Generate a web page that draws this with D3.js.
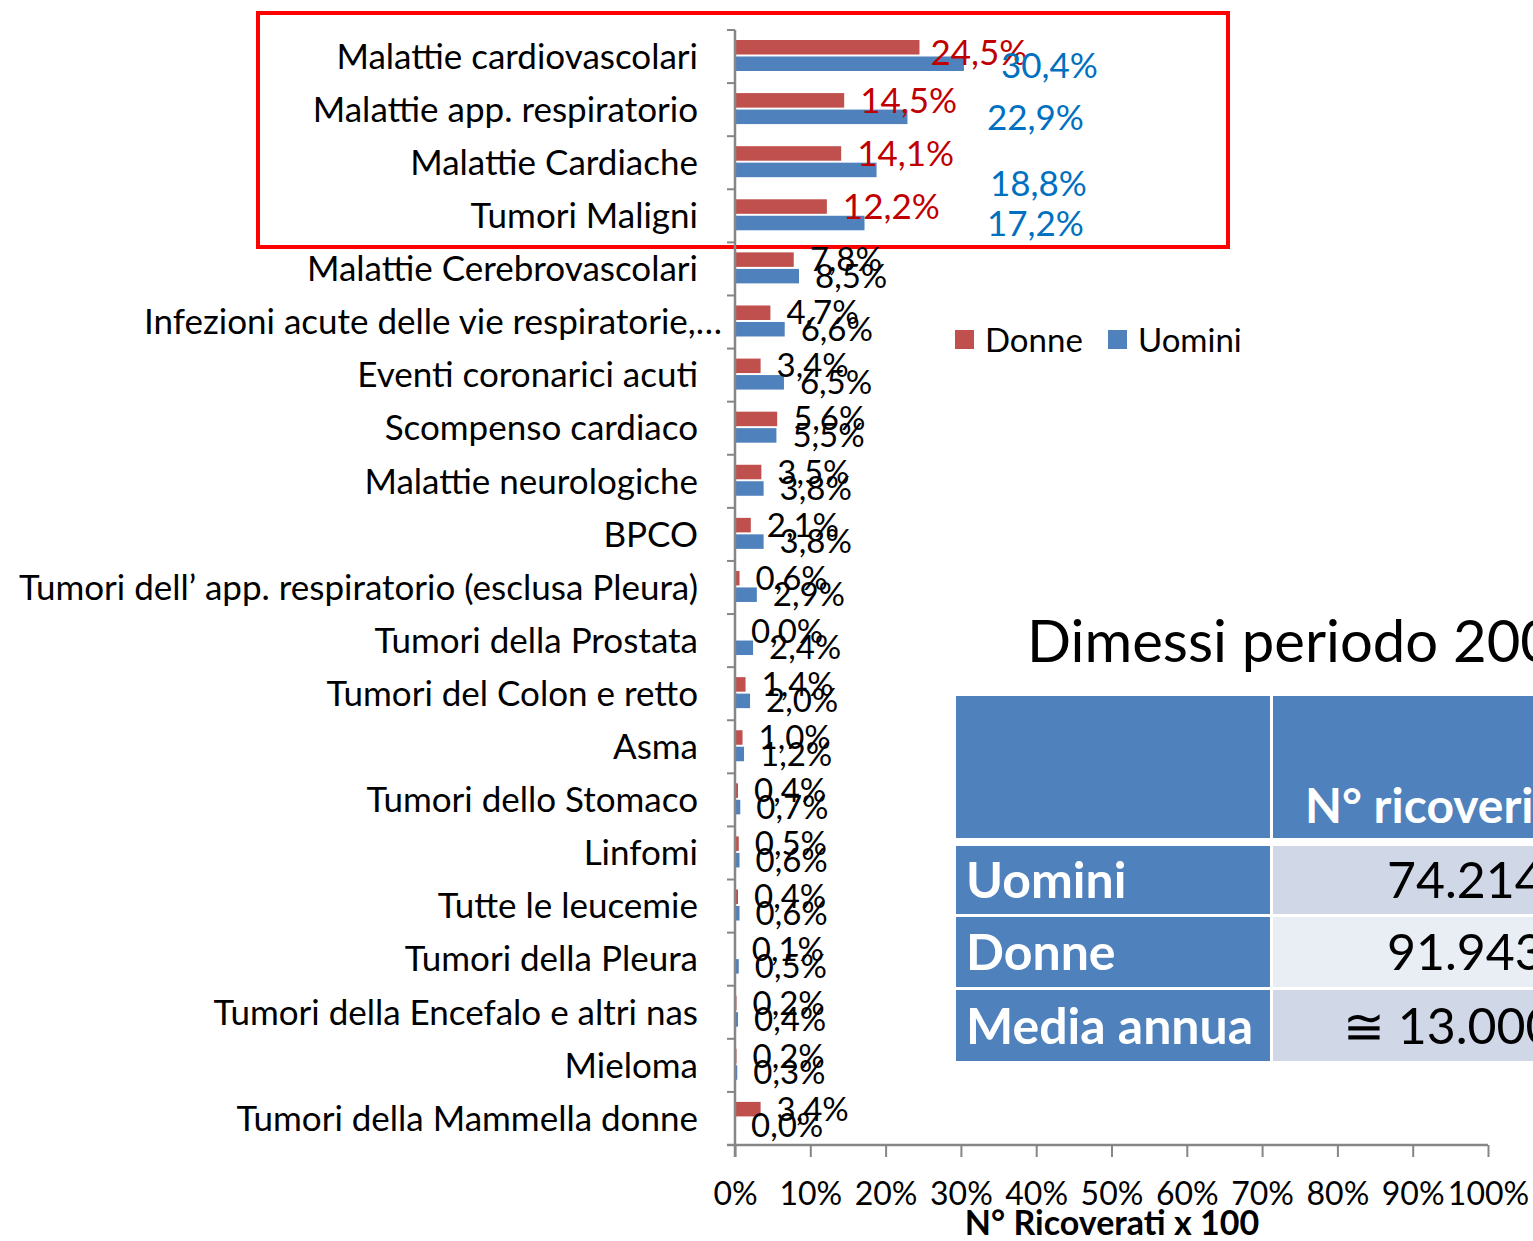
<!DOCTYPE html>
<html>
<head>
<meta charset="utf-8">
<script src="https://cdn.jsdelivr.net/npm/d3@7"></script>
<style>
  html, body { margin: 0; padding: 0; background: #fff; overflow: hidden; }
  svg { display: block; font-family: Lato, "Noto Sans", sans-serif; }
</style>
</head>
<body>
<svg id="chart" width="1533" height="1241"></svg>
<script>
// categorie (dall'alto verso il basso) e percentuali per sesso
var categories = [
    'Malattie cardiovascolari',
    'Malattie app. respiratorio',
    'Malattie Cardiache',
    'Tumori Maligni',
    'Malattie Cerebrovascolari',
    'Infezioni acute delle vie respiratorie,…',
    'Eventi coronarici acuti',
    'Scompenso cardiaco',
    'Malattie neurologiche',
    'BPCO',
    'Tumori dell’ app. respiratorio (esclusa Pleura)',
    'Tumori della Prostata',
    'Tumori del Colon e retto',
    'Asma',
    'Tumori dello Stomaco',
    'Linfomi',
    'Tutte le leucemie',
    'Tumori della Pleura',
    'Tumori della Encefalo e altri nas',
    'Mieloma',
    'Tumori della Mammella donne'
];
var donne  = [24.5, 14.5, 14.1, 12.2, 7.8, 4.7, 3.4, 5.6, 3.5, 2.1, 0.6, 0.0, 1.4, 1.0, 0.4, 0.5, 0.4, 0.1, 0.2, 0.2, 3.4];
var uomini = [30.4, 22.9, 18.8, 17.2, 8.5, 6.6, 6.5, 5.5, 3.8, 3.8, 2.9, 2.4, 2.0, 1.2, 0.7, 0.6, 0.6, 0.5, 0.4, 0.3, 0.0];
var seriesNames = ['Donne', 'Uomini'];
var xTickValues = [0, 0.1, 0.2, 0.3, 0.4, 0.5, 0.6, 0.7, 0.8, 0.9, 1];
var highlightCount = 4;

// tabella a destra
var tableTitle = 'Dimessi periodo 200';
var tableHeader = 'N° ricoveri';
var tableRows = ['Uomini', 'Donne', 'Media annua'];
var tableValues = ['74.214', '91.943', '≅ 13.000'];

// --- layout ---
var RED = '#C0504D', BLUE = '#4F81BD', AXIS = '#868686';
var colors = { Donne: RED, Uomini: BLUE };
var values = { Donne: donne, Uomini: uomini };
// etichette evidenziate spostate a mano (come nell'originale)
var redCallout = [{ dx: 11, dy: 5 }, { dx: 16, dy: 0 }, { dx: 16, dy: 0 }, { dx: 16, dy: 0 }];
var blueCallout = [{ x: 1001, dy: 2 }, { x: 987, dy: 1 }, { x: 990, dy: 14 }, { x: 987, dy: 1 }];

var svg = d3.select('#chart');

var x = d3.scaleLinear().domain([0, 1]).range([735, 1488]);
var y = d3.scaleBand().domain(categories).range([30, 1145]);
var sub = d3.scaleBand().domain(seriesNames).range([10, 41]).paddingInner(0.12);

// riquadro rosso
svg.append('rect')
    .attr('x', 258).attr('y', 13)
    .attr('width', 970).attr('height', 234)
    .attr('fill', 'none')
    .attr('stroke', '#FF0000')
    .attr('stroke-width', 4);

// barre
var rows = svg.append('g').selectAll('g')
    .data(categories)
    .enter()
    .append('g')
    .attr('transform', function (d) { return 'translate(0,' + y(d) + ')'; });

rows.selectAll('rect')
    .data(function (d, i) {
        return seriesNames.map(function (s) { return { s: s, v: values[s][i] / 100 }; });
    })
    .enter()
    .append('rect')
    .attr('x', x(0))
    .attr('y', function (d) { return sub(d.s); })
    .attr('width', function (d) { return x(d.v) - x(0); })
    .attr('height', sub.bandwidth())
    .attr('fill', function (d) { return colors[d.s]; });

// etichette valori
var fmt = function (v) { return v.toFixed(1).replace('.', ',') + '%'; };
rows.each(function (c, i) {
    var g = d3.select(this);
    var hi = i < highlightCount;
    seriesNames.forEach(function (s) {
        var v = values[s][i];
        var lx = x(v / 100) + 16;
        var ly = sub(s) + sub.bandwidth() / 2;
        var fill = '#000';
        if (hi) {
            if (s === 'Donne') {
                fill = '#C00000';
                lx = x(v / 100) + redCallout[i].dx;
                ly += redCallout[i].dy;
            } else {
                fill = '#0070C0';
                lx = blueCallout[i].x;
                ly += blueCallout[i].dy;
            }
        }
        g.append('text')
            .attr('x', lx)
            .attr('y', ly)
            .attr('dy', '0.35em')
            .attr('fill', fill)
            .attr('font-size', hi ? 35 : 33)
            .text(fmt(v));
    });
});

// etichette categorie (quella troncata sporge verso l'asse, come in Excel)
svg.append('g').selectAll('text')
    .data(categories)
    .enter()
    .append('text')
    .attr('x', function (d) { return d.slice(-1) === '…' ? 722 : 698; })
    .attr('y', function (d) { return y(d) + y.bandwidth() / 2; })
    .attr('dy', '0.35em')
    .attr('text-anchor', 'end')
    .attr('font-size', 35)
    .attr('fill', '#000')
    .text(function (d) { return d; });

// asse verticale con tacche tra le categorie
var bounds = categories.map(function (c) { return y(c); }).concat([y.range()[1]]);
svg.append('g').selectAll('line')
    .data(bounds)
    .enter()
    .append('line')
    .attr('x1', 727).attr('x2', x(0))
    .attr('y1', function (d) { return d; })
    .attr('y2', function (d) { return d; })
    .attr('stroke', AXIS).attr('stroke-width', 2);
svg.append('line')
    .attr('x1', x(0)).attr('x2', x(0))
    .attr('y1', y.range()[0]).attr('y2', y.range()[1] + 12)
    .attr('stroke', AXIS).attr('stroke-width', 2.5);

// asse orizzontale
var xAxis = svg.append('g')
    .attr('transform', 'translate(0,' + y.range()[1] + ')')
    .call(d3.axisBottom(x)
        .tickValues(xTickValues)
        .tickFormat(d3.format('.0%'))
        .tickSize(12)
        .tickSizeOuter(0)
        .tickPadding(25));
xAxis.select('.domain').remove();
xAxis.selectAll('.tick line').attr('stroke', AXIS).attr('stroke-width', 2);
xAxis.selectAll('.tick text').attr('fill', '#000').attr('font-size', 32).attr('font-family', 'Lato, sans-serif');
svg.append('line')
    .attr('x1', 727).attr('x2', x(1))
    .attr('y1', y.range()[1]).attr('y2', y.range()[1])
    .attr('stroke', AXIS).attr('stroke-width', 2.5);

svg.append('text')
    .attr('x', 1112).attr('y', 1235)
    .attr('text-anchor', 'middle')
    .attr('font-size', 34).attr('font-weight', 'bold')
    .text('N° Ricoverati x 100');

// legenda
var legend = svg.append('g').selectAll('g')
    .data(seriesNames)
    .enter()
    .append('g')
    .attr('transform', function (d, i) { return 'translate(' + (955 + i * 153) + ',330)'; });
legend.append('rect').attr('width', 19).attr('height', 19).attr('fill', function (d) { return colors[d]; });
legend.append('text').attr('x', 30).attr('y', 10).attr('dy', '0.35em').attr('font-size', 33).text(function (d) { return d; });

// titolo e tabella
svg.append('text')
    .attr('x', 1027).attr('y', 662)
    .attr('font-size', 58)
    .text(tableTitle);

var table = svg.append('g');
table.append('rect').attr('x', 956).attr('y', 696).attr('width', 314).attr('height', 142).attr('fill', BLUE);
table.append('rect').attr('x', 1273).attr('y', 696).attr('width', 280).attr('height', 142).attr('fill', BLUE);
table.append('text')
    .attr('x', 1305).attr('y', 823)
    .attr('font-size', 48).attr('font-weight', 'bold').attr('fill', '#fff')
    .text(tableHeader);

var rowTop = [846, 917, 990];
var rowH = [68, 70, 71];
var cellFill = ['#D0D8E8', '#E9EDF4', '#D0D8E8'];
var tr = table.selectAll('g.row')
    .data(tableRows)
    .enter()
    .append('g')
    .attr('class', 'row');
tr.append('rect')
    .attr('x', 956).attr('y', function (d, i) { return rowTop[i]; })
    .attr('width', 314).attr('height', function (d, i) { return rowH[i]; })
    .attr('fill', BLUE);
tr.append('rect')
    .attr('x', 1273).attr('y', function (d, i) { return rowTop[i]; })
    .attr('width', 280).attr('height', function (d, i) { return rowH[i]; })
    .attr('fill', function (d, i) { return cellFill[i]; });
tr.append('text')
    .attr('x', 966).attr('y', function (d, i) { return rowTop[i] + rowH[i] / 2; })
    .attr('dy', '0.36em')
    .attr('font-size', 50).attr('font-weight', 'bold').attr('fill', '#fff')
    .text(function (d) { return d; });
tr.append('text')
    .attr('x', function (d, i) { return i === 2 ? 1343 : 1387; })
    .attr('y', function (d, i) { return rowTop[i] + rowH[i] / 2; })
    .attr('dy', '0.36em')
    .attr('font-size', 50).attr('fill', '#000')
    .text(function (d, i) { return tableValues[i]; });
</script>
</body>
</html>
